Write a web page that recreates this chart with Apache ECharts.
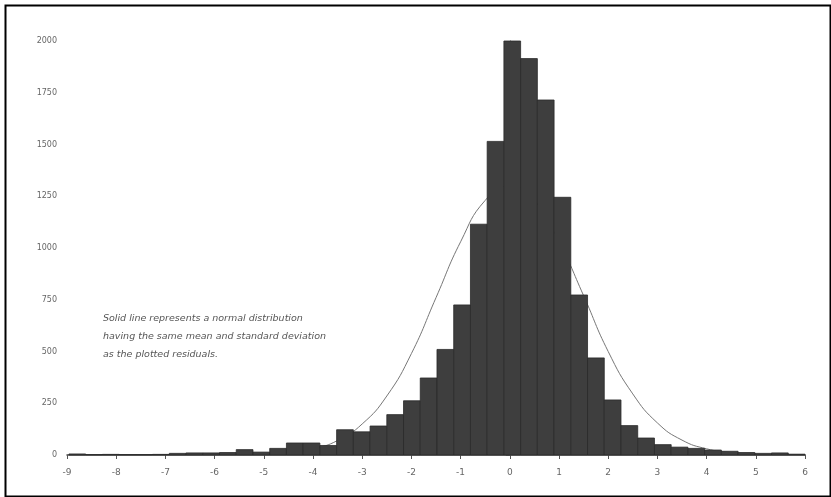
<!DOCTYPE html>
<html lang="en" style="height: 100%">
<head>
    <meta charset="UTF-8">
    <script src="https://cdn.jsdelivr.net/npm/echarts@6/dist/echarts.min.js"></script>
    <title>Residual histogram</title>
</head>
<body style="height: 100%; margin: 0; background: #fff">
<div id="main" style="width: 831px; height: 497px"></div>
<script>
    // histogram bins (left edge of each bin, counts)
    var binWidth = 0.34;
    var binStart = [-8.96, -8.62, -8.28, -7.94, -7.60, -7.26, -6.92, -6.58, -6.24, -5.90,
        -5.56, -5.22, -4.88, -4.54, -4.20, -3.86, -3.52, -3.18, -2.84, -2.50,
        -2.16, -1.82, -1.48, -1.14, -0.80, -0.46, -0.12, 0.22, 0.56, 0.90,
        1.24, 1.58, 1.92, 2.26, 2.60, 2.94, 3.28, 3.62, 3.96, 4.30,
        4.64, 4.98, 5.32, 5.66];
    var binCounts = [5, 2, 3, 2, 2, 3, 8, 10, 10, 12,
        26, 14, 32, 58, 58, 46, 122, 112, 140, 195,
        262, 372, 510, 725, 1115, 1515, 2000, 1915, 1715, 1245,
        773, 469, 266, 142, 82, 50, 38, 32, 24, 18,
        12, 8, 10, 4];

    // normal curve (drawn behind the bars)
    var curveX = [-5.5, -5, -4.5, -4, -3.5, -3, -2.5, -2, -1.5, -1, -0.5, 0,
        0.5, 1, 1.5, 2, 2.5, 3, 3.5, 4, 4.5, 5];
    var curveY = [2, 5, 12, 30, 70, 150, 285, 490, 760, 1030, 1230, 1300,
        1230, 1030, 770, 500, 295, 155, 72, 30, 12, 4];

    var yTicks = ['0', '250', '500', '750', '1000', '1250', '1500', '1750', '2000'];
    var note = ['Solid line represents a normal distribution',
        'having the same mean and standard deviation',
        'as the plotted residuals.'];

    var bars = binStart.map(function (s, i) {
        return [s, s + binWidth, binCounts[i]];
    });
    var curve = curveX.map(function (x, i) {
        return [x, curveY[i]];
    });

    var myChart = echarts.init(document.getElementById('main'));
    var option = {
        animation: false,
        grid: {left: 67, right: 26, top: 41, bottom: 42},
        xAxis: {
            type: 'value',
            min: -9, max: 6, interval: 1,
            splitLine: {show: false},
            axisLine: {lineStyle: {color: '#444', width: 1.5}},
            axisTick: {show: true, length: 4, lineStyle: {color: '#555'}},
            axisLabel: {color: '#666', fontSize: 9, margin: 13, fontFamily: 'DejaVu Sans'}
        },
        yAxis: {
            type: 'value',
            min: 0, max: 2000, interval: 250,
            splitLine: {show: false},
            axisLine: {show: true, lineStyle: {color: '#555', width: 1}},
            axisTick: {show: true, length: 4, lineStyle: {color: '#555'}},
            axisLabel: {
                color: '#666', fontSize: 8, margin: 10, fontFamily: 'DejaVu Sans',
                formatter: function (v) { return yTicks[v / 250]; }
            }
        },
        graphic: [
            {
                type: 'rect', left: 3, top: 3,
                shape: {width: 825, height: 491},
                style: {fill: 'none', stroke: '#000', lineWidth: 2}
            },
            {
                type: 'text', left: 103, top: 310,
                style: {
                    text: note.join('\n'), fill: '#555', fontSize: 9.5,
                    fontStyle: 'italic', fontFamily: 'DejaVu Sans', lineHeight: 18
                }
            }
        ],
        series: [
            {
                type: 'line',
                data: curve,
                smooth: true,
                symbol: 'none',
                lineStyle: {color: '#777', width: 1},
                z: 1
            },
            {
                type: 'custom',
                data: bars,
                renderItem: function (params, api) {
                    var p0 = api.coord([api.value(0), api.value(2)]);
                    var p1 = api.coord([api.value(1), 0]);
                    return {
                        type: 'rect',
                        shape: {x: p0[0], y: p0[1], width: p1[0] - p0[0], height: p1[1] - p0[1]},
                        style: {fill: '#3e3e3e', stroke: '#2a2a2a', lineWidth: 0.8}
                    };
                },
                z: 2
            }
        ]
    };
    myChart.setOption(option);
</script>
</body>
</html>
